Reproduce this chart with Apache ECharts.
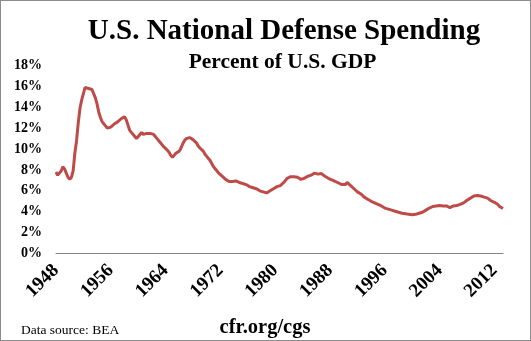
<!DOCTYPE html>
<html>
<head>
<meta charset="utf-8">
<script src="https://cdn.jsdelivr.net/npm/echarts@6/dist/echarts.min.js"></script>
<style>
html,body{margin:0;padding:0;background:#fff;}
#wrap{width:531px;height:341px;box-sizing:border-box;border:1px solid #8c8c8c;position:relative;overflow:hidden;}
#chart{position:absolute;left:-1px;top:-1px;width:531px;height:341px;}
</style>
</head>
<body>
<div id="wrap"><div id="chart"></div></div>
<script>
// Quarterly national defense spending, percent of GDP, 1948Q1 - 2013Q2
const startYear = 1948;
const defenseShare = [
  7.8, 7.5, 7.5, 7.9,      // 1948
  8.3, 8.1, 7.7, 7.3,      // 1949
  7.1, 7.3, 7.9, 9.6,      // 1950
  10.8, 12.5, 13.9, 14.7,  // 1951
  15.3, 15.9, 15.9, 15.8,  // 1952
  15.8, 15.7, 15.6, 14.9,  // 1953
  14.3, 13.5, 13.0, 12.6,  // 1954
  12.4, 12.2, 12.0, 11.9,  // 1955
  12.1, 12.2, 12.4, 12.5,  // 1956
  12.6, 12.7, 12.9, 13.0,  // 1957
  13.1, 12.8, 12.3, 11.8,  // 1958
  11.6, 11.5, 11.2, 11.0,  // 1959
  11.1, 11.4, 11.6, 11.4,  // 1960
  11.3, 11.5, 11.4, 11.5,  // 1961
  11.5, 11.4, 11.2, 11.0,  // 1962
  10.8, 10.6, 10.4, 10.2,  // 1963
  10.1, 9.9, 9.7, 9.4,     // 1964
  9.2, 9.3, 9.6, 9.75,     // 1965
  9.8, 10.1, 10.5, 10.8,   // 1966
  11.0, 11.1, 11.1, 10.95, // 1967
  10.9, 10.8, 10.6, 10.3,  // 1968
  10.1, 10.0, 9.8, 9.5,    // 1969
  9.3, 9.1, 8.9, 8.6,      // 1970
  8.3, 8.2, 7.9, 7.7,      // 1971
  7.6, 7.4, 7.3, 7.1,      // 1972
  7.0, 6.9, 6.85, 6.9,     // 1973
  7.0, 6.95, 6.95, 6.8,    // 1974
  6.8, 6.7, 6.65, 6.6,     // 1975
  6.5, 6.4, 6.35, 6.3,     // 1976
  6.25, 6.2, 6.1, 6.0,     // 1977
  5.95, 5.9, 5.85, 5.8,    // 1978
  5.85, 6.0, 6.1, 6.2,     // 1979
  6.3, 6.4, 6.45, 6.5,     // 1980
  6.6, 6.8, 7.0, 7.2,      // 1981
  7.3, 7.35, 7.4, 7.35,    // 1982
  7.3, 7.3, 7.2, 7.1,      // 1983
  7.1, 7.2, 7.3, 7.4,      // 1984
  7.45, 7.5, 7.6, 7.7,     // 1985
  7.75, 7.6, 7.7, 7.65,    // 1986
  7.55, 7.4, 7.3, 7.2,     // 1987
  7.1, 7.05, 7.0, 6.9,     // 1988
  6.85, 6.75, 6.7, 6.6,    // 1989
  6.55, 6.6, 6.8, 6.7,     // 1990
  6.5, 6.35, 6.2, 6.1,     // 1991
  5.9, 5.75, 5.7, 5.55,    // 1992
  5.4, 5.3, 5.2, 5.1,      // 1993
  5.0, 4.9, 4.85, 4.75,    // 1994
  4.7, 4.65, 4.55, 4.45,   // 1995
  4.35, 4.3, 4.25, 4.2,    // 1996
  4.15, 4.1, 4.05, 4.0,    // 1997
  3.95, 3.9, 3.85, 3.85,   // 1998
  3.8, 3.75, 3.75, 3.7,    // 1999
  3.7, 3.72, 3.75, 3.8,    // 2000
  3.85, 3.9, 3.95, 4.05,   // 2001
  4.15, 4.25, 4.35, 4.45,  // 2002
  4.5, 4.6, 4.55, 4.55,    // 2003
  4.6, 4.6, 4.55, 4.6,     // 2004
  4.55, 4.45, 4.4, 4.45,   // 2005
  4.55, 4.6, 4.6, 4.65,    // 2006
  4.7, 4.75, 4.85, 5.0,    // 2007
  5.1, 5.2, 5.3, 5.4,      // 2008
  5.5, 5.55, 5.55, 5.5,    // 2009
  5.5, 5.45, 5.4, 5.3,     // 2010
  5.3, 5.2, 5.05, 4.95,    // 2011
  4.9, 4.8, 4.7, 4.5,      // 2012
  4.4, 4.3                 // 2013
];
const tickYears = ['1948','1956','1964','1972','1980','1988','1996','2004','2012'];
const yTicks = [0, 2, 4, 6, 8, 10, 12, 14, 16, 18];

const quarters = defenseShare.map((_, i) => (startYear + Math.floor(i / 4)) + 'Q' + (i % 4 + 1));

const serif = '"Liberation Serif", "DejaVu Serif", serif';
const chart = echarts.init(document.getElementById('chart'), null, {renderer: 'canvas'});
chart.setOption({
  backgroundColor: 'transparent',
  animation: false,
  title: [
    {text: 'U.S. National Defense Spending', left: 279, top: 12, textAlign: 'center',
     textStyle: {fontFamily: serif, fontWeight: 'bold', fontSize: 29, color: '#000'}},
    {text: 'Percent of U.S. GDP', left: 277.5, top: 46, textAlign: 'center',
     textStyle: {fontFamily: serif, fontWeight: 'bold', fontSize: 21.5, color: '#000'}},
    {text: 'Data source: BEA', left: 16, top: 318,
     textStyle: {fontFamily: serif, fontWeight: 'normal', fontSize: 13.5, color: '#000'}},
    {text: 'cfr.org/cgs', left: 260, top: 312, textAlign: 'center',
     textStyle: {fontFamily: serif, fontWeight: 'bold', fontSize: 20.5, color: '#000'}}
  ],
  grid: {left: 56, right: 28, top: 65.5, bottom: 87.5, containLabel: false},
  xAxis: {
    type: 'category',
    data: quarters,
    boundaryGap: false,
    axisLine: {show: true, lineStyle: {color: '#868686', width: 1}},
    axisTick: {show: false},
    splitLine: {show: false},
    axisLabel: {
      interval: 31,
      rotate: 45,
      margin: 14,
      fontFamily: serif, fontWeight: 'bold', fontSize: 19, color: '#000',
      formatter: v => { const y = v.slice(0, 4); return tickYears.indexOf(y) >= 0 ? y : ''; }
    }
  },
  yAxis: {
    type: 'value',
    min: yTicks[0], max: yTicks[yTicks.length - 1], interval: 2,
    axisLine: {show: false},
    axisTick: {show: false},
    splitLine: {show: false},
    axisLabel: {margin: 14, fontFamily: serif, fontWeight: 'bold', fontSize: 14, color: '#000',
                formatter: v => v + '%'}
  },
  series: [{
    type: 'line',
    data: defenseShare,
    showSymbol: false,
    symbol: 'none',
    lineStyle: {color: '#be4b48', width: 3},
    itemStyle: {color: '#be4b48'}
  }]
});
</script>
</body>
</html>
